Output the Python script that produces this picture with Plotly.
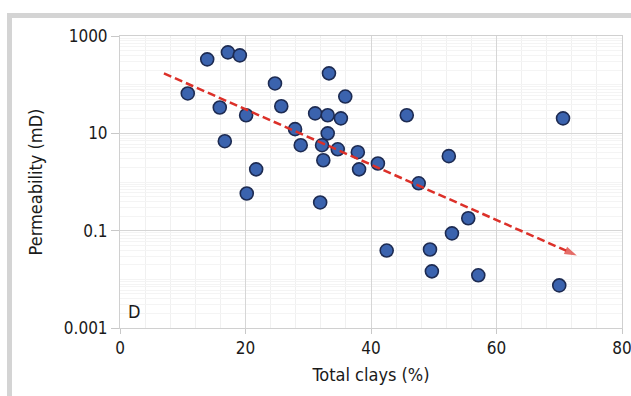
import plotly.graph_objects as go
import numpy as np

# Data
clay_pct = [10.8, 13.9, 17.2, 19.1, 15.9, 16.7, 20.1, 21.7, 20.2, 24.7,
            25.7, 27.9, 28.8, 31.1, 33.3, 35.9, 33.1, 35.2, 33.1, 32.2,
            34.7, 32.4, 37.9, 38.1, 41.1, 45.7, 52.4, 47.6, 31.9, 55.5,
            52.9, 42.5, 49.4, 49.7, 57.1, 70.0, 70.6]
permeability_md = [66, 331, 461, 400, 34, 6.9, 23.5, 1.82, 0.58, 106,
                   36, 12.2, 5.7, 25.7, 171, 57, 23.5, 20.3, 10, 5.7,
                   4.7, 2.8, 4.1, 1.82, 2.4, 23.5, 3.4, 0.94, 0.38, 0.18,
                   0.088, 0.039, 0.041, 0.0146, 0.0121, 0.0075, 20.3]

trend_x = [7.0, 72.8]
trend_y = [171, 0.031]

x_ticks = [0, 20, 40, 60, 80]
y_tickvals = [0.001, 0.1, 10, 1000]
y_ticktext = ["0.001", "0.1", "10", "1000"]

FONT = "Liberation Sans Narrow, DejaVu Sans Condensed, Arial Narrow, sans-serif"
TXT = "#1a1a1a"

fig = go.Figure()

fig.add_trace(go.Scatter(
    x=clay_pct, y=permeability_md, mode="markers",
    marker=dict(size=13, color="#3b63ae", line=dict(color="#1d2b52", width=1.6)),
    showlegend=False, cliponaxis=False,
))

fig.add_trace(go.Scatter(
    x=trend_x, y=trend_y, mode="lines+markers",
    line=dict(color="#dc3029", width=2.5, dash="8px,4px"),
    marker=dict(symbol=["circle", "arrow"], size=[0, 13], angleref="previous",
                color="#dc3029", line=dict(width=0)),
    showlegend=False,
))

fig.add_annotation(x=1.0, y=np.log10(0.0022), xref="x", yref="y", text="D",
                   showarrow=False, xanchor="left", yanchor="middle",
                   font=dict(family=FONT, size=18, color=TXT))

# grey frame (top & left visible)
L, R, T, B = 120, 9, 36, 68
PW, PH = 631 - L - R, 396 - T - B
def px(xp):
    return (xp - L) / PW
def py(yp):
    return (396 - B - yp) / PH
fig.add_shape(type="rect", xref="paper", yref="paper",
              x0=px(9.5), x1=px(660), y0=py(430), y1=py(15.5),
              line=dict(color="#d4d4d4", width=5), fillcolor="rgba(0,0,0,0)",
              layer="below")

fig.update_xaxes(
    range=[0, 80], tickvals=x_ticks, ticks="outside", ticklen=5, tickcolor="#c8c8c8",
    ticklabeloverflow="allow", automargin=False,
    showgrid=True, gridcolor="#d6d6d6", gridwidth=1,
    minor=dict(dtick=4, showgrid=True, gridcolor="#f0f0f0", gridwidth=1),
    showline=True, linecolor="#d0d0d0", mirror=True, zeroline=False,
    tickfont=dict(family=FONT, size=17, color=TXT),
    title=dict(text="Total clays (%)", font=dict(family=FONT, size=18, color=TXT), standoff=10),
)
fig.update_yaxes(
    type="log", range=[-3, 3], tickvals=y_tickvals, ticktext=y_ticktext,
    ticks="outside", ticklen=8, tickcolor="#c8c8c8", automargin=False,
    showgrid=True, gridcolor="#d6d6d6", gridwidth=1,
    minor=dict(dtick="D1", showgrid=True, gridcolor="#f4f4f4", gridwidth=1),
    showline=True, linecolor="#d0d0d0", mirror=True, zeroline=False,
    tickfont=dict(family=FONT, size=17, color=TXT),
    title=dict(text="Permeability (mD)", font=dict(family=FONT, size=18, color=TXT), standoff=16),
)

fig.update_layout(
    width=631, height=396,
    margin=dict(l=L, r=R, t=T, b=B, autoexpand=False),
    paper_bgcolor="white", plot_bgcolor="white",
    font=dict(family=FONT, color=TXT),
)

fig.write_html("out.html")
